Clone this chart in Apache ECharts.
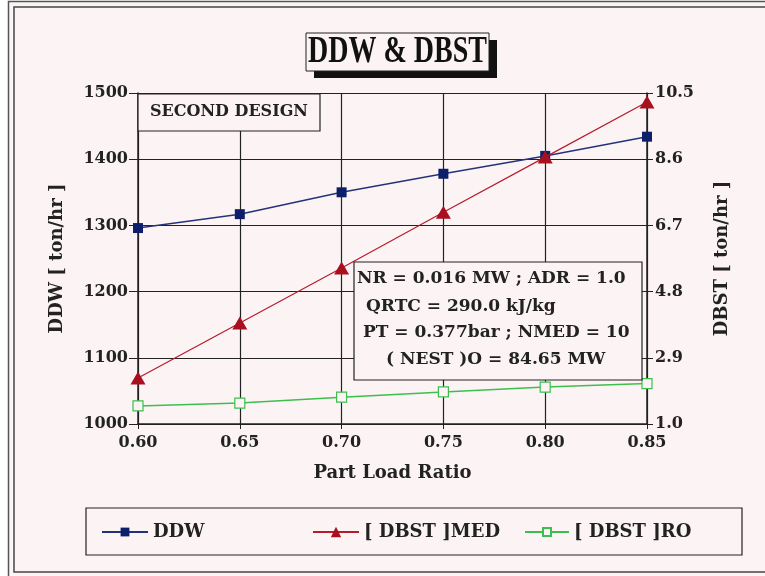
<!DOCTYPE html>
<html>
<head>
<meta charset="utf-8">
<script src="https://cdn.jsdelivr.net/npm/echarts@6/dist/echarts.min.js"></script>
<style>
  html, body { margin: 0; padding: 0; background: #ffffff; }
  #chart { width: 765px; height: 576px; }
</style>
</head>
<body>
<div id="chart"></div>
<script>
// part load ratio
const loadRatio = ["0.60", "0.65", "0.70", "0.75", "0.80", "0.85"];
// DDW [ton/hr], left axis
const ddw = [1296, 1317, 1350, 1378, 1405, 1434];
// DBST [ton/hr], right axis
const dbstMed = [2.32, 3.9, 5.48, 7.08, 8.66, 10.24];
const dbstRo = [1.52, 1.6, 1.77, 1.92, 2.06, 2.16];
// right axis tick labels
const dbstTicks = [1.0, 2.9, 4.8, 6.7, 8.6, 10.5];
// note box text
const noteLines = [
  "NR = 0.016 MW ; ADR = 1.0",
  "QRTC = 290.0 kJ/kg",
  "PT = 0.377bar ; NMED = 10",
  "( NEST )O = 84.65 MW",
];

const FONT = "'DejaVu Serif', 'Liberation Serif', serif";
const TITLE_FONT = "'Liberation Serif', serif";
const INK = "#222";
const BG = "#fcf4f4";

const chart = echarts.init(document.getElementById("chart"));

const textStyle = { fontFamily: FONT, fontWeight: "bold", color: INK };

// left edge and middle of each note line
const noteX = [357, 366, 363, 386];
const noteY = [279, 307, 333, 360];

chart.setOption({
  backgroundColor: "#ffffff",
  animation: false,
  textStyle: { fontFamily: FONT },
  grid: { left: 138, right: 118, top: 93, bottom: 152 },
  xAxis: {
    type: "category",
    data: loadRatio,
    boundaryGap: false,
    name: "Part Load Ratio",
    nameLocation: "middle",
    nameGap: 40,
    nameTextStyle: { ...textStyle, fontSize: 18 },
    axisLine: { lineStyle: { color: INK, width: 1.5 } },
    axisTick: { length: 5, lineStyle: { color: INK } },
    axisLabel: { ...textStyle, fontSize: 16, margin: 11 },
    splitLine: { show: true, lineStyle: { color: INK, width: 1.2 } },
  },
  yAxis: [
    {
      type: "value",
      min: 1000,
      max: 1500,
      interval: 100,
      name: "DDW [ ton/hr ]",
      nameLocation: "middle",
      nameGap: 72,
      nameRotate: 90,
      nameTextStyle: { ...textStyle, fontSize: 18 },
      axisLine: { show: true, lineStyle: { color: INK, width: 1.5 } },
      axisTick: { show: true, length: 9, lineStyle: { color: INK } },
      axisLabel: { ...textStyle, fontSize: 16, margin: 10, formatter: (v) => String(v) },
      splitLine: { show: true, lineStyle: { color: INK, width: 1.2 } },
    },
    {
      type: "value",
      min: 1.0,
      max: 10.5,
      name: "DBST [ ton/hr ]",
      nameLocation: "middle",
      nameGap: 66,
      nameRotate: 90,
      nameTextStyle: { ...textStyle, fontSize: 18 },
      axisLine: { show: true, lineStyle: { color: INK, width: 1.5 } },
      axisTick: {
        show: true,
        length: 6,
        customValues: dbstTicks,
        lineStyle: { color: INK },
      },
      axisLabel: {
        ...textStyle,
        fontSize: 16,
        margin: 8,
        customValues: dbstTicks,
        formatter: (v) => v.toFixed(1),
      },
      splitLine: { show: false },
    },
  ],
  legend: [
    {
      data: ["DDW"],
      left: 96,
      top: 518,
      itemWidth: 46,
      itemHeight: 11,
      textStyle: { ...textStyle, fontSize: 18 },
    },
    {
      data: ["[ DBST ]MED"],
      left: 307,
      top: 518,
      itemWidth: 46,
      itemHeight: 13,
      textStyle: { ...textStyle, fontSize: 18 },
    },
    {
      data: ["[ DBST ]RO"],
      left: 519,
      top: 518,
      itemWidth: 44,
      itemHeight: 10,
      textStyle: { ...textStyle, fontSize: 18 },
    },
  ],
  graphic: [
    // outer frames
    { type: "rect", shape: { x: 8.5, y: 1.5, width: 800, height: 620 }, style: { fill: BG, stroke: "#555", lineWidth: 1.5 }, z: -10 },
    { type: "rect", shape: { x: 14, y: 7, width: 800, height: 565 }, style: { fill: BG, stroke: "#444", lineWidth: 1.5 }, z: -9 },
    // title with shadow
    { type: "rect", shape: { x: 314, y: 40, width: 183, height: 38 }, style: { fill: "#111" }, z: 10 },
    { type: "rect", shape: { x: 306, y: 33, width: 183, height: 38 }, style: { fill: BG, stroke: INK, lineWidth: 1 }, z: 11 },
    { type: "text", x: 397.5, y: 52, scaleY: 1.35, style: { text: "DDW & DBST", font: "bold 28px " + TITLE_FONT, fill: "#111", align: "center", verticalAlign: "middle" }, z: 12 },
    // design label
    { type: "rect", shape: { x: 138, y: 94, width: 182, height: 37 }, style: { fill: BG, stroke: INK, lineWidth: 1.2 }, z: 10 },
    { type: "text", x: 229, y: 112, style: { text: "SECOND DESIGN", font: "bold 16px " + FONT, fill: INK, align: "center", verticalAlign: "middle" }, z: 11 },
    // note box
    { type: "rect", shape: { x: 354, y: 262, width: 288, height: 118 }, style: { fill: BG, stroke: INK, lineWidth: 1.2 }, z: 10 },
    ...noteLines.map((t, i) => ({
      type: "text",
      x: noteX[i],
      y: noteY[i],
      style: { text: t, font: "bold 17px " + FONT, fill: INK, verticalAlign: "middle" },
      z: 11,
    })),
    // legend box
    { type: "rect", shape: { x: 86, y: 508, width: 656, height: 47 }, style: { fill: BG, stroke: INK, lineWidth: 1.2 }, z: -1 },
  ],
  series: [
    {
      name: "DDW",
      type: "line",
      yAxisIndex: 0,
      data: ddw,
      symbol: "rect",
      symbolSize: 10,
      lineStyle: { color: "#23337a", width: 1.5 },
      itemStyle: { color: "#0d1f6b" },
      z: 5,
    },
    {
      name: "[ DBST ]MED",
      type: "line",
      yAxisIndex: 1,
      data: dbstMed,
      symbol: "triangle",
      symbolSize: [15, 13],
      lineStyle: { color: "#b51c2c", width: 1.2 },
      itemStyle: { color: "#a8101f" },
      z: 6,
    },
    {
      name: "[ DBST ]RO",
      type: "line",
      yAxisIndex: 1,
      data: dbstRo,
      symbol: "rect",
      symbolSize: 10,
      lineStyle: { color: "#3cbf4c", width: 1.5 },
      itemStyle: { color: BG, borderColor: "#3cbf4c", borderWidth: 1.2 },
      z: 4,
    },
  ],
});
</script>
</body>
</html>
